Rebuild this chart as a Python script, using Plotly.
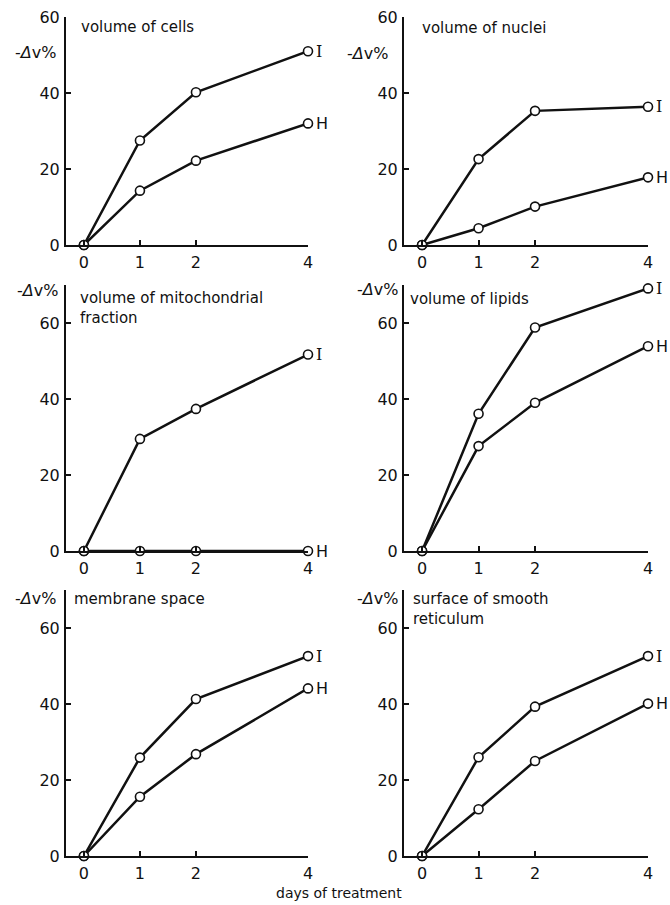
import plotly.graph_objects as go

# ---------------- data ----------------
days = [0, 1, 2, 4]
x_ticks = [0, 1, 2, 4]
y_ticks = [0, 20, 40, 60]

titles = [
    "volume of cells",
    "volume of nuclei",
    "volume of mitochondrial<br>fraction",
    "volume of lipids",
    "membrane space",
    "surface of smooth<br>reticulum",
]

cells_I = [0, 27.5, 40.2, 51.0]
cells_H = [0, 14.3, 22.2, 32.0]
nuclei_I = [0, 22.6, 35.3, 36.4]
nuclei_H = [0, 4.4, 10.1, 17.8]
mito_I = [0, 29.5, 37.4, 51.7]
mito_H = [0, 0, 0, 0]
lipids_I = [0, 36.1, 58.8, 69.1]
lipids_H = [0, 27.6, 39.0, 53.9]
membrane_I = [0, 25.9, 41.3, 52.6]
membrane_H = [0, 15.6, 26.8, 44.1]
reticulum_I = [0, 26.0, 39.3, 52.6]
reticulum_H = [0, 12.3, 25.0, 40.1]

series_I = [cells_I, nuclei_I, mito_I, lipids_I, membrane_I, reticulum_I]
series_H = [cells_H, nuclei_H, mito_H, lipids_H, membrane_H, reticulum_H]

ylabel = "-<i>Δ</i>v%"
xlabel = "days of treatment"

# ---------------- layout geometry (pixels) ----------------
W, H = 670, 905
def fx(p):
    return p / W
def fy(p):
    return 1 - p / H

col_px = [(66, 308), (404, 648)]
row_px = [(17, 245), (285, 551), (590, 856)]   # (top, bottom)
row_range = [[0, 60], [0, 70], [0, 70]]

ylab_pos = [(58, 52), (390, 53), (60, 290), (400, 289), (58, 598), (400, 598)]
title_pos = [(79, 26), (420, 27), (78, 297), (408, 298), (72, 598), (411, 598)]

FONT = "DejaVu Sans"
BLACK = "#111111"

fig = go.Figure()
layout = dict(
    width=W, height=H, autosize=False,
    margin=dict(l=0, r=0, t=0, b=0, pad=0),
    paper_bgcolor="white", plot_bgcolor="white",
    showlegend=False,
    font=dict(family=FONT, size=15, color=BLACK),
)
annotations = []

for i in range(6):
    r, c = divmod(i, 2)
    n = i + 1
    xa = "x" if n == 1 else f"x{n}"
    ya = "y" if n == 1 else f"y{n}"
    xl, xr = col_px[c]
    yt, yb = row_px[r]
    layout["xaxis" if n == 1 else f"xaxis{n}"] = dict(
        domain=[fx(xl), fx(xr)], range=[-0.32, 4], anchor=ya, automargin=False,
        showgrid=False, zeroline=False, showline=True, linewidth=2, linecolor=BLACK,
        tickvals=x_ticks, ticktext=[str(v) for v in x_ticks],
        ticks="inside", ticklen=5, tickwidth=1.5, tickcolor=BLACK,
        tickfont=dict(family=FONT, size=16, color=BLACK), ticklabelstandoff=2,
    )
    layout["yaxis" if n == 1 else f"yaxis{n}"] = dict(
        domain=[fy(yb), fy(yt)], range=row_range[r], anchor=xa, automargin=False,
        showgrid=False, zeroline=False, showline=True, linewidth=2, linecolor=BLACK,
        tickvals=y_ticks, ticktext=[str(v) for v in y_ticks],
        ticks="inside", ticklen=5, tickwidth=1.5, tickcolor=BLACK,
        tickfont=dict(family=FONT, size=16, color=BLACK), ticklabelstandoff=1,
    )
    for ys, lab, font in ((series_I[i], "I", "DejaVu Serif"), (series_H[i], "H", FONT)):
        fig.add_trace(go.Scatter(
            x=days, y=ys, xaxis=xa, yaxis=ya, mode="lines+markers",
            line=dict(color=BLACK, width=2.5),
            marker=dict(symbol="circle", size=9, color="white",
                        line=dict(color=BLACK, width=1.6)),
            cliponaxis=False, hoverinfo="skip",
        ))
        annotations.append(dict(
            x=days[-1], y=ys[-1], xref=xa, yref=ya, text=lab, showarrow=False,
            xanchor="left", yanchor="middle", xshift=6,
            font=dict(family=font, size=16, color=BLACK),
        ))
    lx, ly = ylab_pos[i]
    annotations.append(dict(
        x=fx(lx), y=fy(ly), xref="paper", yref="paper", text=ylabel,
        showarrow=False, xanchor="right", yanchor="middle",
        font=dict(family=FONT, size=16, color=BLACK),
    ))
    tx, ty = title_pos[i]
    annotations.append(dict(
        x=fx(tx), y=fy(ty - 10), xref="paper", yref="paper", text=titles[i],
        showarrow=False, xanchor="left", yanchor="top", align="left",
        font=dict(family=FONT, size=15, color=BLACK),
    ))

annotations.append(dict(
    x=fx(339), y=fy(893), xref="paper", yref="paper", text=xlabel,
    showarrow=False, xanchor="center", yanchor="middle",
    font=dict(family=FONT, size=14, color=BLACK),
))

layout["annotations"] = annotations
fig.update_layout(**layout)
fig.write_html(
    "out.html",
    config={"displayModeBar": False},
    post_script="document.body.style.margin='0';document.body.style.padding='0';",
)
